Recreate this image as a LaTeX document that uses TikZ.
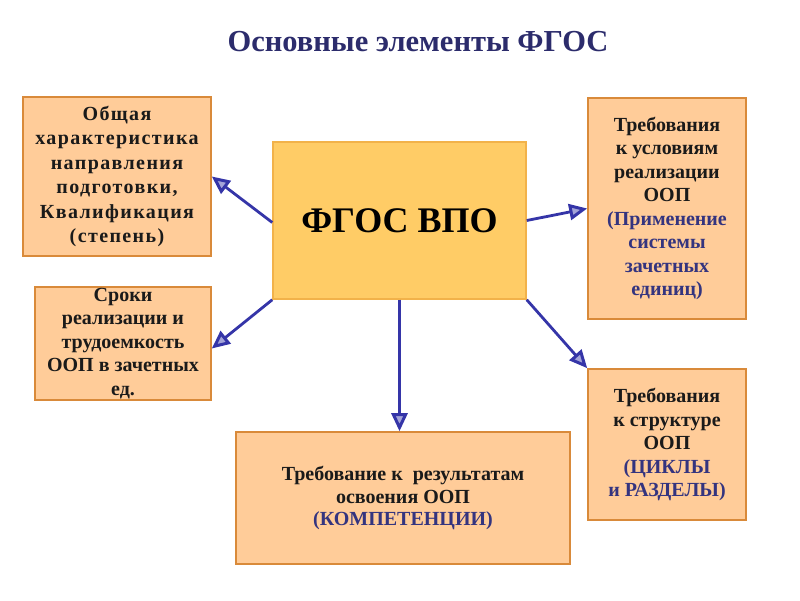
\documentclass[tikz,border=0pt]{standalone}
\usepackage{fontspec}
\setmainfont{Liberation Serif}
\newfontfamily\spacedserif{Liberation Serif}[LetterSpace=7]
\usetikzlibrary{arrows.meta}
\definecolor{peach}{HTML}{FFCC99}
\definecolor{peachline}{HTML}{D98A3A}
\definecolor{centrefill}{HTML}{FFCC66}
\definecolor{centreline}{HTML}{F2B24A}
\definecolor{arrowblue}{HTML}{3535A8}
\definecolor{textblue}{HTML}{34347F}
\definecolor{titleblue}{HTML}{2C2C6C}
\definecolor{darktext}{HTML}{1A1A1A}
\tikzset{
  box/.style={draw=peachline, fill=peach, line width=1.6pt, inner sep=0pt, align=center,
    font=\bfseries\fontsize{20}{23.5}\selectfont, text=darktext},
  centrebox/.style={draw=centreline, fill=centrefill, line width=1.4pt, inner sep=0pt,
    minimum width=253pt, minimum height=157pt, font=\bfseries\fontsize{36}{40}\selectfont, text=black},
  link/.style={draw=arrowblue, line width=2.8pt,
    -{Triangle[open, length=18pt, width=16pt, line width=3pt, fill=arrowblue!45]}},
  blue/.style={text=textblue}
}
\begin{document}
\begin{tikzpicture}[x=1pt, y=-1pt]
\useasboundingbox (0,0) rectangle (800,600);
\node[font=\bfseries\fontsize{30.5}{34}\selectfont, text=titleblue] (title) at (418,42) {Основные элементы ФГОС};
\node[centrebox] (c) at (399.5,220.5) {ФГОС ВПО};
\node[box, minimum width=188pt, minimum height=159pt, font=\spacedserif\bfseries\fontsize{20}{24.5}\selectfont] (a) at (117,176.5)
  {Общая\\характеристика\\направления\\подготовки,\\Квалификация\\(степень)};
\node[box, minimum width=158pt, minimum height=221pt] (b) at (667,208.5)
  {Требования\\к условиям\\реализации\\ООП\\\textcolor{textblue}{(Применение}\\\textcolor{textblue}{системы}\\\textcolor{textblue}{зачетных}\\\textcolor{textblue}{единиц)}};
\node[box, minimum width=176pt, minimum height=113pt] (s) at (123,343.5)
  {Сроки\\реализации и\\трудоемкость\\ООП в зачетных\\ед.};
\node[box, minimum width=334pt, minimum height=132pt, font=\bfseries\fontsize{20}{22.5}\selectfont] (d) at (403,498)
  {Требование к\ \ результатам\\освоения ООП\\\textcolor{textblue}{(КОМПЕТЕНЦИИ)}};
\node[box, minimum width=158pt, minimum height=151pt] (e) at (667,444.5)
  {Требования\\к структуре\\ООП\\\textcolor{textblue}{(ЦИКЛЫ}\\\textcolor{textblue}{и РАЗДЕЛЫ)}};
\draw[link] ([yshift=-2pt]c.west) -- (a.east);
\draw[link] (c.east) -- (b.west);
\draw[link] (c.south west) -- ([yshift=-5pt]s.east);
\draw[link] (c.south) -- (c.south |- d.north);
\draw[link] (c.south east) -- (e.north west);
\end{tikzpicture}
\end{document}
